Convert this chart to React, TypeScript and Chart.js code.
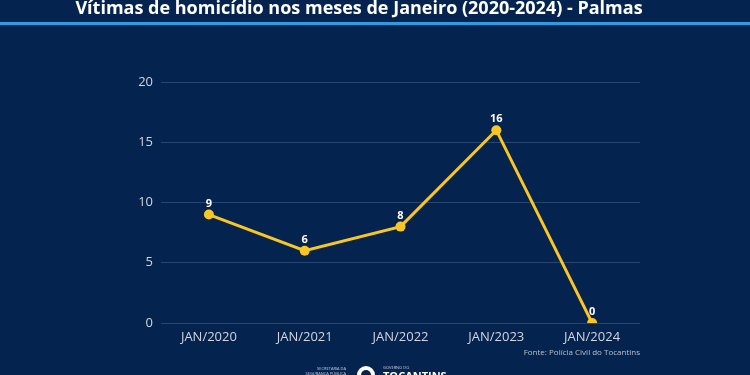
import React, { useEffect, useRef } from "react";
import { Chart, registerables } from "chart.js";

Chart.register(...registerables);

const categories = ["JAN/2020", "JAN/2021", "JAN/2022", "JAN/2023", "JAN/2024"];
const victims = [9, 6, 8, 16, 0];
const yTicks = [0, 5, 10, 15, 20];
const titleText = "Vítimas de homicídio nos meses de Janeiro (2020-2024) - Palmas";
const sourceText = "Fonte: Polícia Civil do Tocantins";

const BG = "#04234e";

const decorPlugin = {
  id: "decor",
  beforeDraw(chart: any) {
    const { ctx, width, height } = chart;
    ctx.save();
    ctx.fillStyle = BG;
    ctx.fillRect(0, 0, width, height);
    ctx.fillStyle = "#2f9be0";
    ctx.fillRect(0, 22, width, 3);
    ctx.restore();
  },
  afterDraw(chart: any) {
    const { ctx } = chart;
    ctx.save();
    ctx.fillStyle = "#ffffff";
    ctx.font = "bold 18px 'Open Sans'";
    ctx.textAlign = "center";
    ctx.textBaseline = "alphabetic";
    ctx.fillText(titleText, 359, 14);
    // source
    ctx.fillStyle = "#b9c0cc";
    ctx.font = "8px 'Open Sans'";
    ctx.textAlign = "right";
    ctx.fillText(sourceText, 640, 355);
    // logo
    ctx.fillStyle = "#c9ced8";
    ctx.font = "4px 'Open Sans'";
    ctx.textAlign = "right";
    ctx.fillText("SECRETARIA DA", 346, 370);
    ctx.fillText("SEGURANÇA PÚBLICA", 346, 375);
    ctx.fillStyle = "#ffffff";
    ctx.beginPath();
    ctx.arc(366, 375, 9, Math.PI, 2 * Math.PI);
    ctx.fill();
    ctx.fillStyle = BG;
    ctx.beginPath();
    ctx.arc(366, 375, 5, Math.PI, 2 * Math.PI);
    ctx.fill();
    ctx.fillStyle = "#c9ced8";
    ctx.textAlign = "left";
    ctx.fillText("GOVERNO DO", 383, 369);
    ctx.fillStyle = "#ffffff";
    ctx.font = "bold 11px 'Open Sans'";
    ctx.fillText("TOCANTINS", 383, 380);
    // data labels
    const meta = chart.getDatasetMeta(0);
    ctx.font = "bold 11px 'Open Sans'";
    ctx.textAlign = "center";
    ctx.fillStyle = "#ffffff";
    meta.data.forEach((pt: any, i: number) => {
      ctx.fillText(String(victims[i]), pt.x, pt.y - 8);
    });
    ctx.restore();
  },
};

export default function App() {
  const ref = useRef<HTMLCanvasElement>(null);
  useEffect(() => {
    document.body.style.margin = "0";
    document.body.style.background = BG;
    const chart = new Chart(ref.current!, {
      type: "line",
      data: {
        labels: categories,
        datasets: [
          {
            data: victims,
            borderColor: "#f9c623",
            backgroundColor: "#f9c623",
            borderWidth: 3,
            pointRadius: 5,
            pointBackgroundColor: "#f9c623",
            pointBorderWidth: 0,
            tension: 0,
          },
        ],
      },
      options: {
        responsive: false,
        animation: false,
        layout: { padding: { top: 82, right: 110, left: 0, bottom: 0 } },
        plugins: { legend: { display: false }, tooltip: { enabled: false }, title: { display: false } },
        scales: {
          x: {
            offset: true,
            grid: { display: false, drawTicks: false },
            border: { display: false },
            ticks: { color: "#d2d6de", font: { family: "'Open Sans'", size: 13 }, padding: 6 },
            afterFit: (s: any) => { s.height = 52; },
          },
          y: {
            min: 0,
            max: 20,
            afterBuildTicks: (s: any) => { s.ticks = yTicks.map((v) => ({ value: v })); },
            grid: { color: "rgba(120,150,190,0.3)", lineWidth: 1, drawTicks: false },
            border: { display: false },
            ticks: { color: "#d2d6de", font: { family: "'Open Sans'", size: 13 }, padding: 8 },
            afterFit: (s: any) => { s.width = 161; },
          },
        },
      },
      plugins: [decorPlugin],
    });
    return () => chart.destroy();
  }, []);
  return <canvas ref={ref} width={750} height={375} style={{ display: "block" }} />;
}
